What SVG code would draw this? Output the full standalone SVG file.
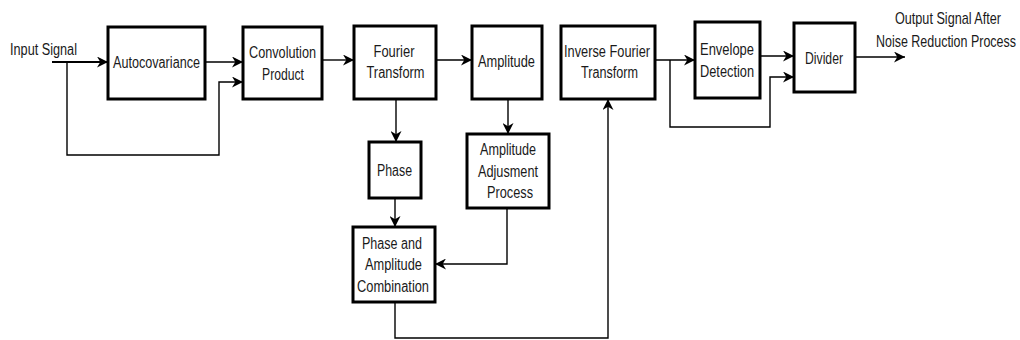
<svg xmlns="http://www.w3.org/2000/svg" width="1020" height="340" viewBox="0 0 1020 340">
<style>
.box{fill:#fff;stroke:#000;stroke-width:3}
.t{font-family:"Liberation Sans",Arial,sans-serif;font-size:16px;fill:#1a1a1a;text-anchor:middle}
.c{fill:none;stroke:#000;stroke-width:1.4}
</style>
<defs>
<marker id="ah" viewBox="0 0 10 10" refX="10" refY="5" markerWidth="11" markerHeight="11" markerUnits="userSpaceOnUse" orient="auto">
<path d="M0,0 L10,5 L0,10 L3,5 z" fill="#000"/>
</marker>
</defs>
<rect width="1020" height="340" fill="#fff"/>
<g id="connectors">
<path class="c" d="M52,62 H108" style="stroke-width:2" marker-end="url(#ah)"/>
<path class="c" d="M67,62 V155 H219 V82 H243" marker-end="url(#ah)"/>
<path class="c" d="M205,62 H243" marker-end="url(#ah)"/>
<path class="c" d="M322,60 H354" marker-end="url(#ah)"/>
<path class="c" d="M436,60 H472" marker-end="url(#ah)"/>
<path class="c" d="M396,99 V142" marker-end="url(#ah)"/>
<path class="c" d="M508,99 V134" marker-end="url(#ah)"/>
<path class="c" d="M395,198 V227" marker-end="url(#ah)"/>
<path class="c" d="M507,208 V264 H435" marker-end="url(#ah)"/>
<path class="c" d="M395,302 V338 H608 V99" marker-end="url(#ah)"/>
<path class="c" d="M655,60 H695" marker-end="url(#ah)"/>
<path class="c" d="M670,60 V127 H770 V77 H794" marker-end="url(#ah)"/>
<path class="c" d="M760,56 H794" marker-end="url(#ah)"/>
<path class="c" d="M855,57 H905" marker-end="url(#ah)"/>
</g>
<g id="input-label"><text class="t" x="43.5" y="55" textLength="67" lengthAdjust="spacingAndGlyphs">Input Signal</text></g>
<g id="output-label">
<text class="t" transform="translate(948,24) scale(0.79,1)">Output Signal After</text>
<text class="t" transform="translate(946,47) scale(0.78,1)">Noise Reduction Process</text>
</g>
<g id="autocovariance"><rect class="box" x="108" y="27" width="97" height="72"/>
<text class="t" x="156.5" y="68" textLength="87" lengthAdjust="spacingAndGlyphs">Autocovariance</text></g>
<g id="convolution"><rect class="box" x="243" y="27" width="79" height="72"/>
<text class="t" x="282.5" y="58" textLength="67" lengthAdjust="spacingAndGlyphs">Convolution</text>
<text class="t" x="283" y="80" textLength="42" lengthAdjust="spacingAndGlyphs">Product</text></g>
<g id="fourier"><rect class="box" x="354" y="26" width="82" height="73"/>
<text class="t" x="394" y="57" textLength="41" lengthAdjust="spacingAndGlyphs">Fourier</text>
<text class="t" x="395.5" y="78" textLength="58" lengthAdjust="spacingAndGlyphs">Transform</text></g>
<g id="amplitude"><rect class="box" x="472" y="26" width="70" height="73"/>
<text class="t" x="506.5" y="67" textLength="57" lengthAdjust="spacingAndGlyphs">Amplitude</text></g>
<g id="inverse-fourier"><rect class="box" x="561" y="26" width="94" height="73"/>
<text class="t" x="607" y="57" textLength="86" lengthAdjust="spacingAndGlyphs">Inverse Fourier</text>
<text class="t" x="609.5" y="78" textLength="57" lengthAdjust="spacingAndGlyphs">Transform</text></g>
<g id="envelope"><rect class="box" x="695" y="22" width="65" height="76"/>
<text class="t" x="727" y="55" textLength="54" lengthAdjust="spacingAndGlyphs">Envelope</text>
<text class="t" x="727" y="77" textLength="54" lengthAdjust="spacingAndGlyphs">Detection</text></g>
<g id="divider"><rect class="box" x="794" y="23" width="61" height="69"/>
<text class="t" x="824" y="64" textLength="38" lengthAdjust="spacingAndGlyphs">Divider</text></g>
<g id="phase"><rect class="box" x="369" y="142" width="52" height="56"/>
<text class="t" x="394.5" y="176" textLength="35" lengthAdjust="spacingAndGlyphs">Phase</text></g>
<g id="amplitude-adjustment"><rect class="box" x="467" y="134" width="82" height="74"/>
<text class="t" x="508" y="155" textLength="56" lengthAdjust="spacingAndGlyphs">Amplitude</text>
<text class="t" x="508" y="177" textLength="60" lengthAdjust="spacingAndGlyphs">Adjusment</text>
<text class="t" x="510" y="198" textLength="46" lengthAdjust="spacingAndGlyphs">Process</text></g>
<g id="combination"><rect class="box" x="353" y="227" width="82" height="75"/>
<text class="t" x="392" y="249" textLength="60" lengthAdjust="spacingAndGlyphs">Phase and</text>
<text class="t" x="393.5" y="270" textLength="57" lengthAdjust="spacingAndGlyphs">Amplitude</text>
<text class="t" x="393" y="292" textLength="72" lengthAdjust="spacingAndGlyphs">Combination</text></g>
</svg>
